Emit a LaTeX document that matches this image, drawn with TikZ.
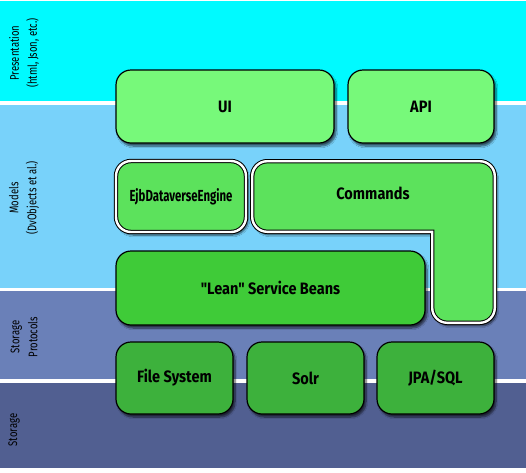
\documentclass[tikz,border=0pt]{standalone}
\usepackage{fontspec}
\newfontfamily\boxfont{Fira Sans}[FakeStretch=0.88]
\newfontfamily\layerfont{Fira Sans}[FakeStretch=0.76]
\usetikzlibrary{shadows.blur}

\definecolor{presentcyan}{HTML}{00FAFF}
\definecolor{modelblue}{HTML}{78D2FA}
\definecolor{protoblue}{HTML}{6A80B8}
\definecolor{storeblue}{HTML}{515F91}
\definecolor{uigreen}{HTML}{77F97A}
\definecolor{cmdgreen}{HTML}{5CE25C}
\definecolor{beangreen}{HTML}{3FCB38}
\definecolor{storegreen}{HTML}{3DB13C}

\tikzstyle{layer} = [rotate=90, align=center, font=\fontsize{12.5}{18}\selectfont\layerfont]
\tikzstyle{comp} = [rectangle, rounded corners=15pt, draw=black, line width=1.2pt, text centered, inner sep=0pt, font=\fontsize{16.5}{18}\selectfont\boxfont\bfseries, blur shadow={shadow xshift=2pt, shadow yshift=-3pt, shadow opacity=65, shadow blur steps=8}]
\tikzstyle{framed} = [comp, double=white, double distance=2.4pt, line width=1pt]
\tikzstyle{label} = [font=\fontsize{16.5}{18}\selectfont\boxfont\bfseries]

\begin{document}
\begin{tikzpicture}[x=1pt, y=-1pt]
\useasboundingbox (0,0) rectangle (526,472);

% layer bands
\fill[presentcyan] (0,1) rectangle (526,101);
\fill[modelblue] (0,105) rectangle (526,288);
\fill[protoblue] (0,291) rectangle (526,379);
\fill[storeblue] (0,383) rectangle (526,468);

\node (presentation) [layer] at (24,53) {Presentation\\(html, Json, etc.)};
\node (models) [layer] at (24,198) {Models\\(DvObjects et al.)};
\node (protocols) [layer] at (24,337) {Storage\\Protocols};
\node (storage) [layer] at (14,430) {Storage};

% presentation
\node (ui) [comp, fill=uigreen, minimum width=218pt, minimum height=73pt] at (225,106.5) {UI};
\node (api) [comp, fill=uigreen, minimum width=146pt, minimum height=73pt] at (421,106.5) {API};

% models
\node (engine) [framed, fill=cmdgreen, minimum width=130pt, minimum height=71pt, font=\fontsize{16}{18}\selectfont\boxfont\bfseries] at (181,196.5) {\resizebox{103pt}{\height}{EjbDataverseEngine}};
\path[framed, fill=cmdgreen] (252.2,161.2) -- (494.8,161.2) -- (494.8,322.8) -- (432.2,322.8)
  [sharp corners] -- (432.2,231.8) [rounded corners=15pt] -- (252.2,231.8) -- cycle;
\node (commands) [label] at (373,193) {Commands};
\node (beans) [comp, fill=beangreen, minimum width=309pt, minimum height=74pt] at (270.5,288) {"Lean" Service Beans};

% storage
\node (files) [comp, fill=storegreen, minimum width=117pt, minimum height=72pt] at (174.5,378) {File System};
\node (solr) [comp, fill=storegreen, minimum width=117pt, minimum height=72pt] at (305.5,378) {Solr};
\node (jpa) [comp, fill=storegreen, minimum width=117pt, minimum height=72pt] at (435.5,378) {JPA/SQL};

\end{tikzpicture}
\end{document}
